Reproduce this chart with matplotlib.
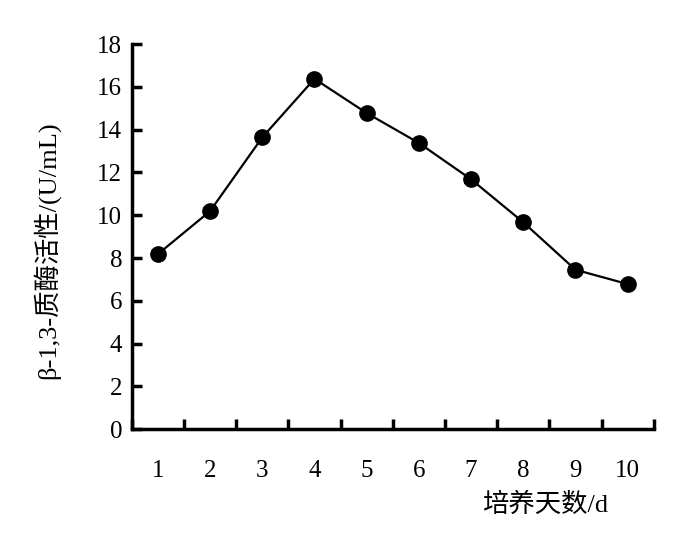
import numpy as np
import matplotlib
matplotlib.use('Agg')
import matplotlib.pyplot as plt

plt.rcParams['font.family'] = ['Liberation Serif', 'Noto Sans CJK SC', 'DejaVu Sans']

# data
days = [1, 2, 3, 4, 5, 6, 7, 8, 9, 10]
activity = [8.18, 10.19, 13.64, 16.38, 14.78, 13.38, 11.68, 9.67, 7.45, 6.78]
err = [0.15, 0.15, 0.15, 0.15, 0.15, 0.15, 0.15, 0.15, 0.15, 0.15]
yticks = [0, 2, 4, 6, 8, 10, 12, 14, 16, 18]

fig = plt.figure(figsize=(6.97, 5.39), dpi=100)
ax = fig.add_axes([0.189, 0.204, 0.749, 0.714])

x = np.arange(len(days))
ax.errorbar(x, activity, yerr=err, color='black', lw=1.6, marker='o',
            markersize=11, capsize=5, elinewidth=1.2, capthick=1.2)

ax.set_xlim(-0.5, len(days) - 0.5)
ax.set_ylim(0, 18)
ax.set_yticks(yticks)
ax.set_yticklabels([str(v) for v in yticks], fontsize=18)

# category axis: ticks at boundaries, labels at centres
ax.set_xticks(np.arange(-0.5, len(days), 1.0))
ax.set_xticklabels([])
ax.set_xticks(x, minor=True)
ax.set_xticklabels([str(d) for d in days], minor=True, fontsize=18)
ax.tick_params(axis='x', which='major', direction='in', length=7, width=2.5)
ax.tick_params(axis='x', which='minor', length=0, pad=22)
ax.tick_params(axis='y', direction='in', length=7, width=2.5, pad=7)

for s in ['top', 'right']:
    ax.spines[s].set_visible(False)
for s in ['left', 'bottom']:
    ax.spines[s].set_linewidth(2.5)

fig.text(0.782, 0.063, '培养天数/d', fontsize=19, ha='center', va='center')
fig.text(0.067, 0.535, 'β-1,3-质酶活性/(U/mL)', fontsize=19, ha='center', va='center',
         rotation=90)

fig.savefig('out.png', dpi=100)
